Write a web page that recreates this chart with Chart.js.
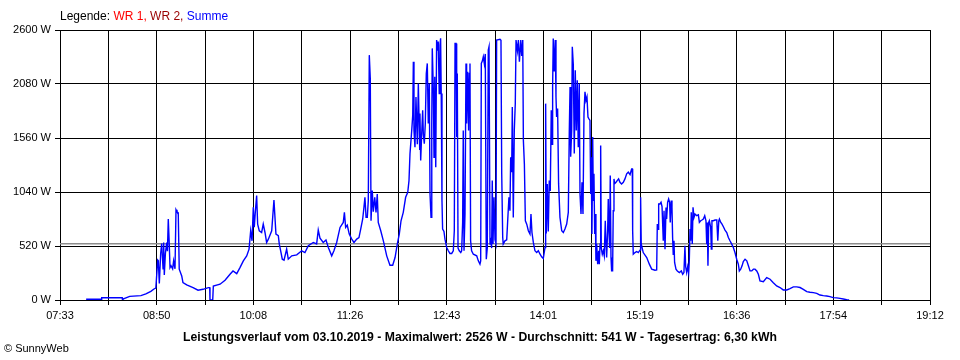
<!DOCTYPE html>
<html>
<head>
<meta charset="utf-8">
<script src="https://cdn.jsdelivr.net/npm/chart.js@4.4.1/dist/chart.umd.min.js"></script>
<style>
  body { margin: 0; background: #fff; }
  #wrap { position: relative; width: 960px; height: 360px; font-family: "Liberation Sans", Arial, sans-serif; }
  canvas { position: absolute; left: 0; top: 0; }
  .txt { position: absolute; white-space: nowrap; line-height: 14px; }
  #legend { left: 60px; top: 9px; font-size: 12px; }
  #caption { left: 480px; top: 330px; font-size: 12px; font-weight: bold; transform-origin: center top; }
  #copy { left: 4px; top: 341px; font-size: 11px; }
</style>
</head>
<body>
<div id="wrap">
  <canvas id="powerChart" width="960" height="360"></canvas>
  <div id="legend" class="txt">Legende: <span style="color:#ff0000">WR 1,</span> <span style="color:#990000">WR 2,</span> <span style="color:#0000ff">Summe</span></div>
  <div id="caption" class="txt">Leistungsverlauf vom 03.10.2019 - Maximalwert: 2526 W - Durchschnitt: 541 W - Tagesertrag: 6,30 kWh</div>
  <div id="copy" class="txt">© SunnyWeb</div>
</div>
<script>
// time axis in minutes of the day
const axisStart = 453;   // 07:33
const axisEnd = 1152;    // 19:12
const tickLabels = ['07:33', '08:50', '10:08', '11:26', '12:43', '14:01', '15:19', '16:36', '17:54', '19:12'];
const yTicks = [0, 520, 1040, 1560, 2080, 2600];
const averageWatts = 541;

// [minute of day, watts]
const powerReadings = [
  [474,7],[486,7],[486.5,22],[503,22],[503.2,0],[504,10],[509,35],[518,42],[522,58],[526,83],[528.5,106],[530,115],
  [531.5,384],[532,377],[532.8,160],[533.9,450],[534.7,544],[535.8,300],[536.3,554],[536.8,242],[537.7,450],[538.7,554],
  [539.3,470],[540,780],[540.6,600],[541.4,312],[542.2,330],[543.5,300],[544.3,377],[545.4,300],[546.2,870],[547,850],
  [548,840],[548.8,297],[550.8,232],[551.8,167],[554.8,145],[559.9,119],[563.9,94],[567.9,103],[572.2,119],[573.3,119],
  [573.5,0],[575.7,0],[576.2,135],[581.6,152],[585.6,190],[589.6,248],[592,280],[595,254],[597.6,312],[600.3,377],
  [603,425],[604.9,490],[606.2,667],[607.3,570],[608.3,892],[609.1,700],[609.9,844],[611,1005],[611.8,730],[613.1,667],
  [615,650],[616.3,731],[617.7,650],[619,554],[620.4,586],[623.1,667],[624.9,963],[626.5,635],[628.4,620],[629.2,538],
  [630.3,474],[631.6,393],[633,384],[635.1,490],[636.4,393],[639.2,425],[643.2,435],[647.2,474],[649.8,457],[652.5,522],
  [656.5,554],[659.2,540],[660.5,673],[661.9,596],[664.5,554],[666.7,577],[668.6,506],[671.3,425],[673.1,474],[675.3,554],
  [678,699],[680.6,747],[681.5,844],[682.5,699],[683.8,720],[685.4,635],[687.4,586],[689.2,554],[691.4,586],[693.2,600],
  [694.6,683],[696.2,780],[697.2,892],[698,989],[698.9,796],[699.9,796],[700.7,957],[701.5,2358],[702.3,2133],[702.9,763],
  [703.9,1054],[704.7,850],[705.9,989],[706.9,844],[707.9,1021],[708.7,747],[710.7,667],[712.8,570],[715.5,425],[718.1,335],
  [720.3,335],[722.2,409],[724,538],[725.6,635],[727,763],[728.8,844],[730.7,989],[732.4,1037],[733.4,1150],[734.2,1408],
  [735.6,1633],[736.4,1778],[736.9,2294],[737.4,1633],[738.2,1472],[739,1955],[740.1,1500],[740.9,2085],[742,1450],
  [742.2,1795],[742.8,1343],[743.6,1600],[744.4,1827],[744.9,1600],[745.7,1505],[746.5,1700],[747.3,2181],[748.1,2278],
  [748.9,1700],[749.7,2085],[750.3,1021],[751.1,796],[751.7,1700],[752.1,2423],[753,2000],[753.5,1375],[754.1,2150],
  [754.9,1279],[755.6,2503],[756.4,2400],[756.9,2490],[757.7,1988],[758.3,2455],[758.8,2520],[759.3,1988],[759.9,957],
  [760.4,683],[761.5,660],[762.3,586],[763.7,506],[765,474],[766.3,448],[767.7,448],[769,474],[769.8,667],[770.4,2471],
  [771.2,2471],[771.7,1569],[772.2,2181],[772.8,500],[773.8,474],[775,457],[775.7,474],[776.5,747],[777,1633],[777.6,474],
  [778.4,828],[779.2,2278],[779.7,1700],[780.5,2197],[781.3,1633],[781.8,2181],[782.4,2278],[782.9,570],[783.7,474],
  [785.1,441],[787.8,425],[789.1,377],[790.4,345],[791,377],[791.5,2278],[792.3,2300],[793.1,2342],[793.9,2278],[794.7,2370],
  [795.5,393],[796.3,500],[797.1,2407],[797.7,2439],[798.5,538],[799,600],[799.8,500],[800.3,1150],[800.9,540],[801.7,989],
  [802.5,580],[803.3,540],[803.8,2503],[806.5,2510],[807.3,2500],[807.9,1215],[808.7,602],[809.1,538],[810.5,570],
  [811.9,580],[812.7,763],[813.7,989],[814.5,860],[815.1,1375],[815.9,1230],[816.4,1858],[817.2,795],[818,1633],[818.8,1891],
  [819.4,2503],[820.5,2400],[821.3,2503],[822.1,2294],[823.2,2503],[824,2350],[824.8,2503],[825.3,1537],[826.1,1311],
  [826.9,763],[828,730],[829.3,667],[830.6,635],[831.4,828],[832.2,650],[833.3,554],[834.6,474],[836,457],[837.3,474],
  [838.7,441],[840,416],[841.3,399],[842.7,506],[843.2,1891],[843.7,640],[844.5,1118],[845.3,660],[846.1,1150],[846.9,1050],
  [847.7,1827],[848.3,1500],[848.8,2052],[849.3,2519],[850.1,2200],[850.9,2503],[851.5,1955],[852,1763],[852.8,1843],
  [853.6,1118],[854.7,796],[856.1,667],[857.4,650],[858.7,683],[860.1,731],[861.4,844],[862.2,1633],[862.8,2052],
  [863.3,1380],[864.1,1633],[864.6,2439],[865.4,2270],[866.2,1410],[867,2213],[867.8,1633],[868.6,2117],[869.4,1470],
  [870.2,2085],[870.8,1021],[871.6,828],[872.4,1134],[873.2,828],[874,1795],[874.8,2004],[875.6,1920],[876.4,1955],
  [877.2,1762],[878,1745],[878.8,1730],[879.4,1020],[879.8,1375],[880.4,635],[881,1570],[881.5,960],[882,1215],[882.6,635],
  [883.1,828],[883.6,377],[884.2,538],[885,345],[885.8,474],[886.3,345],[886.9,538],[887.4,1488],[887.9,500],[888.7,441],
  [889.5,474],[890.3,425],[891.1,763],[891.7,540],[892.2,409],[893,667],[893.5,973],[894.1,667],[894.6,500],[895.1,1198],
  [895.7,410],[896.2,280],[897,280],[897.5,860],[898.1,1166],[898.6,1120],[899.7,1134],[900.7,1150],[901.8,1166],[902.9,1134],
  [904.2,1118],[905.6,1134],[906.9,1166],[908.3,1215],[909.6,1231],[911,1208],[912.3,1263],[912.8,1263],[913.1,667],
  [913.6,441],[915,457],[916.3,467],[917.6,457],[919,480],[919.5,989],[920,540],[921.6,457],[924.4,409],[926.5,345],
  [928.4,297],[931,287],[932.4,290],[932.9,731],[933.5,680],[934,925],[935,925],[935.9,941],[936.7,900],[937.7,570],
  [938.3,860],[939.1,490],[939.9,890],[940.4,780],[941.2,941],[942,973],[942.8,941],[943.3,747],[944.1,957],[944.7,890],
  [945.2,602],[945.7,441],[946.3,570],[946.8,361],[947.9,297],[949,280],[950.6,264],[952.2,280],[953.3,248],[954.3,264],
  [955.1,522],[955.7,320],[956.5,264],[957.3,320],[958.1,264],[958.6,377],[959.2,683],[959.7,570],[960.2,844],[961,540],
  [961.6,892],[962.4,795],[963.2,828],[964.6,812],[965.9,820],[966.7,747],[967.8,763],[968.8,770],[969.9,780],[971,812],
  [972,763],[972.6,538],[973.1,747],[973.6,329],[974.2,747],[974.7,763],[975.8,699],[976.3,490],[976.8,763],[977.9,763],
  [979.3,770],[980.7,770],[981.5,570],[982.3,763],[982.8,780],[983.9,747],[984.9,731],[986,705],[987.3,673],[988.7,650],
  [990,602],[991.3,570],[992.7,538],[994,506],[995.3,457],[996.7,393],[998,345],[998.8,280],[999.9,297],[1001,329],
  [1002,370],[1003.4,393],[1004.8,377],[1006.1,329],[1007.4,280],[1008.8,280],[1010.1,297],[1011.4,297],[1012.8,280],
  [1014.1,248],[1015.4,184],[1018.1,177],[1020.8,216],[1023.5,200],[1026.1,167],[1028.8,135],[1031.5,120],[1034.1,97],
  [1036.9,97],[1039.5,110],[1042.2,126],[1044.9,126],[1047.6,120],[1050.2,103],[1053,80],[1055.6,75],[1058.3,71],
  [1061,64],[1063.6,48],[1066.3,42],[1069,39],[1071.6,32],[1074.3,23],[1077,20],[1079.7,16],[1082.3,10],[1085.1,3],[1087,0]
];

// 18 grid steps between 07:33 and 19:12
const gridMinutes = [];
for (let i = 0; i <= 18; i++) gridMinutes.push(axisStart + i * (axisEnd - axisStart) / 18);

const axisFont = { family: '"Liberation Sans", Arial, sans-serif', size: 11 };

new Chart(document.getElementById('powerChart'), {
    type: 'line',
    data: {
        datasets: [{
            label: 'Summe',
            data: powerReadings.map(([t, w]) => ({ x: t, y: w })),
            borderColor: '#0000ff',
            borderWidth: 1.4,
            pointRadius: 0,
            tension: 0,
            order: 0
        }, {
            label: 'Durchschnitt',
            data: [{ x: axisStart, y: averageWatts }, { x: axisEnd, y: averageWatts }],
            borderColor: '#8c8c8c',
            borderWidth: 1.5,
            pointRadius: 0,
            order: 1
        }]
    },
    options: {
        responsive: false,
        animation: false,
        devicePixelRatio: 1,
        layout: { padding: { top: 30, right: 30, left: 0, bottom: 0 } },
        scales: {
            x: {
                type: 'linear',
                min: axisStart,
                max: axisEnd,
                afterBuildTicks: scale => { scale.ticks = gridMinutes.map(v => ({ value: v })); },
                afterFit: scale => { scale.height = 60; },
                ticks: {
                    autoSkip: false,
                    maxRotation: 0,
                    padding: 4,
                    color: '#000',
                    font: axisFont,
                    callback: (v, i) => (i % 2 === 0 ? tickLabels[i / 2] : '')
                },
                grid: { color: '#000', lineWidth: 1, tickLength: 5, tickColor: '#000' },
                border: { color: '#000', width: 1 }
            },
            y: {
                min: 0,
                max: 2600,
                afterBuildTicks: scale => { scale.ticks = yTicks.map(v => ({ value: v })); },
                afterFit: scale => { scale.width = 60; },
                ticks: {
                    padding: 4,
                    color: '#000',
                    font: axisFont,
                    callback: v => v + ' W'
                },
                grid: { color: '#000', lineWidth: 1, tickLength: 5, tickColor: '#000' },
                border: { color: '#000', width: 1 }
            }
        },
        plugins: {
            legend: { display: false },
            tooltip: { enabled: false },
            title: { display: false }
        }
    }
});

// squeeze caption to the width of the original narrow bold font
const caption = document.getElementById('caption');
const w = caption.getBoundingClientRect().width;
caption.style.transform = 'translateX(-50%) scaleX(' + (594 / w).toFixed(3) + ')';
</script>
</body>
</html>
